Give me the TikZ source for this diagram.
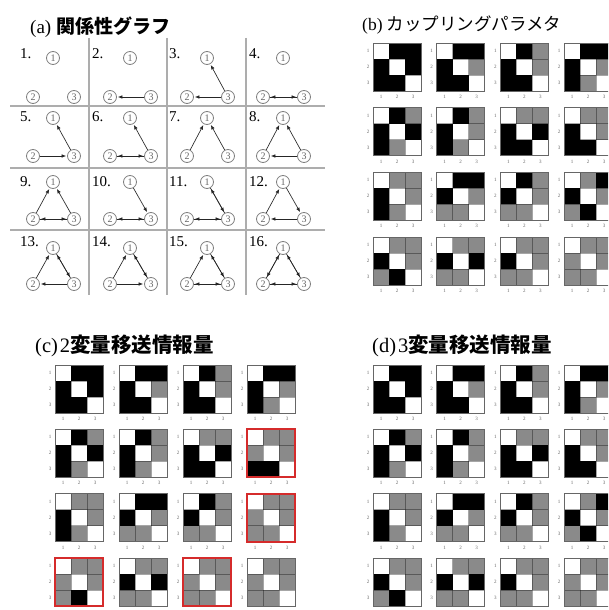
\documentclass[tikz,border=0pt]{standalone}
\usepackage{fontspec}
\setmainfont{Liberation Serif}
\newfontfamily\cjk{Noto Sans CJK JP}
\usetikzlibrary{arrows.meta}
\definecolor{mW}{HTML}{FFFFFF}
\definecolor{mB}{HTML}{000000}
\definecolor{mG}{HTML}{8A8A8A}
\definecolor{gridgray}{HTML}{ADADAD}
\definecolor{redbox}{HTML}{D52B2B}
\newcommand\gcell[4]{%
  \node[gnode] (g#1x1) at (#2,#3) {1};
  \node[gnode] (g#1x2) at (#2-20,#4) {2};
  \node[gnode] (g#1x3) at (#2+21,#4) {3};}
\newcommand\gcon[3]{\draw[garrow] (g#1x#2) -- (g#1x#3);}
\newcommand\cmat[5]{%
  \foreach \cc [count=\i from 0] in #4 {
    \pgfmathtruncatemacro\rr{div(\i,3)}
    \pgfmathtruncatemacro\kk{mod(\i,3)}
    \fill[fill=m\cc] ({#2+16*\kk},{#3+16*\rr}) rectangle ++(16,16);
  }
  \draw[mgrid] ({#2+16},{#3}) -- ++(0,48);
  \draw[mgrid] ({#2+32},{#3}) -- ++(0,48);
  \draw[mgrid] ({#2},{#3+16}) -- ++(48,0);
  \draw[mgrid] ({#2},{#3+32}) -- ++(48,0);
  \draw[mframe] ({#2},{#3}) rectangle ++(48,48);
  \foreach \k in {1,2,3} {
    \node[mtick] (#1l\k) at ({#2-5},{#3+16*\k-8}) {\k};
    \ifnum#5=1
    \node[mtick] (#1b\k) at ({#2+16*\k-8},{#3+54}) {\k};
    \fi
  }}
\def\specsB{{W,B,B,B,W,B,B,B,W},{W,B,B,B,W,G,B,B,W},{W,B,G,B,W,G,B,B,W},{W,B,B,B,W,G,B,G,W},%
{W,B,G,B,W,B,B,G,W},{W,B,G,B,W,G,B,G,W},{W,G,G,B,W,B,B,B,W},{W,G,G,B,W,G,B,B,W},%
{W,G,G,B,W,G,B,G,W},{W,B,B,B,W,G,G,G,W},{W,B,G,B,W,G,G,G,W},{W,G,B,B,W,G,G,B,W},%
{W,G,G,B,W,G,G,B,W},{W,G,G,B,W,B,G,G,W},{W,G,G,B,W,G,G,G,W},{W,G,G,G,W,G,G,G,W}}
\def\specsC{{W,B,B,B,W,B,B,B,W},{W,B,B,B,W,G,B,B,W},{W,B,G,B,W,G,B,B,W},{W,B,B,B,W,G,B,G,W},%
{W,B,G,B,W,B,B,G,W},{W,B,G,B,W,G,B,G,W},{W,G,G,B,W,B,B,B,W},{W,G,G,G,W,G,B,B,W},%
{W,G,G,B,W,G,B,G,W},{W,B,B,B,W,G,G,G,W},{W,B,G,B,W,G,G,G,W},{W,G,G,G,W,G,G,G,W},%
{W,G,G,G,W,G,G,B,W},{W,G,G,B,W,B,G,G,W},{W,G,G,G,W,G,G,G,W},{W,G,G,G,W,G,G,G,W}}
\begin{document}
\begin{tikzpicture}[x=1pt,y=-1pt,
  gnode/.style={circle, draw=black!50, line width=0.8pt, minimum size=13pt, inner sep=0pt,
    font=\fontsize{10}{10}\selectfont, text=black!60},
  garrow/.style={draw=black!85, line width=0.65pt, -{Latex[length=4.5pt,width=3.6pt]}, shorten >=1pt},
  glabel/.style={anchor=west, inner sep=0pt, font=\fontsize{15}{15}\selectfont},
  gline/.style={draw=gridgray, line width=1.3pt},
  mtick/.style={inner sep=0pt, font=\fontsize{5}{5}\selectfont, text=black!60},
  mgrid/.style={draw=black, draw opacity=0.35, line width=0.5pt},
  mframe/.style={draw=black!60, line width=0.7pt},
  rbox/.style={draw=redbox, line width=2.2pt},
  ttl/.style={anchor=west, inner sep=0pt}]
\useasboundingbox (0,0) rectangle (608,610);
\fill[white] (0,0) rectangle (608,610);
\clip (0,0) rectangle (608,610);

% titles
\node[ttl] (ta) at (30,27) {\fontsize{19}{19}\selectfont (a) {\cjk\bfseries 関係性グラフ}};
\node[ttl] (tb) at (362,25) {\fontsize{17.5}{17.5}\selectfont (b) {\cjk カップリングパラメタ}};
\node[ttl] (tc) at (35,346) {\fontsize{20.5}{20.5}\selectfont (c)\hspace{2pt}2{\cjk\bfseries 変量移送情報量}};
\node[ttl] (td) at (372,346) {\fontsize{20.5}{20.5}\selectfont (d)\hspace{2pt}3{\cjk\bfseries 変量移送情報量}};

% (a) grid
\foreach \xx in {89,167,246} \draw[gline] (\xx,38) -- (\xx,295);
\foreach \yy in {106,168,230} \draw[gline] (10,\yy) -- (325,\yy);

% labels
\node[glabel] (l1) at (20,54) {1.};
\node[glabel] (l2) at (92,54) {2.};
\node[glabel] (l3) at (169,54) {3.};
\node[glabel] (l4) at (249,54) {4.};
\node[glabel] (l5) at (20,117) {5.};
\node[glabel] (l6) at (92,117) {6.};
\node[glabel] (l7) at (169,117) {7.};
\node[glabel] (l8) at (249,117) {8.};
\node[glabel] (l9) at (20,182) {9.};
\node[glabel] (l10) at (92,182) {10.};
\node[glabel] (l11) at (169,182) {11.};
\node[glabel] (l12) at (249,182) {12.};
\node[glabel] (l13) at (20,242) {13.};
\node[glabel] (l14) at (92,242) {14.};
\node[glabel] (l15) at (169,242) {15.};
\node[glabel] (l16) at (249,242) {16.};

% graphs
\gcell{1}{53}{58}{97}
\gcell{2}{130}{58}{97}
\gcell{3}{207}{58}{97}
\gcell{4}{283}{58}{97}
\gcell{5}{53}{118}{156}
\gcell{6}{130}{118}{156}
\gcell{7}{207}{118}{156}
\gcell{8}{283}{118}{156}
\gcell{9}{53}{182}{219}
\gcell{10}{130}{182}{219}
\gcell{11}{207}{182}{219}
\gcell{12}{283}{182}{219}
\gcell{13}{53}{248}{284}
\gcell{14}{130}{248}{284}
\gcell{15}{207}{248}{284}
\gcell{16}{283}{248}{284}

\gcon{2}{3}{2}
\gcon{3}{3}{1} \gcon{3}{3}{2}
\gcon{4}{3}{2} \gcon{4}{2}{3}
\gcon{5}{3}{1} \gcon{5}{2}{3}
\gcon{6}{3}{1} \gcon{6}{3}{2} \gcon{6}{2}{3}
\gcon{7}{2}{1} \gcon{7}{3}{1}
\gcon{8}{2}{1} \gcon{8}{3}{1} \gcon{8}{3}{2}
\gcon{9}{2}{1} \gcon{9}{3}{1} \gcon{9}{3}{2} \gcon{9}{2}{3}
\gcon{10}{3}{2} \gcon{10}{1}{3} \gcon{10}{2}{3}
\gcon{11}{3}{1} \gcon{11}{3}{2} \gcon{11}{1}{3} \gcon{11}{2}{3}
\gcon{12}{2}{1} \gcon{12}{3}{2} \gcon{12}{1}{3}
\gcon{13}{2}{1} \gcon{13}{3}{1} \gcon{13}{3}{2} \gcon{13}{1}{3}
\gcon{14}{2}{1} \gcon{14}{3}{1} \gcon{14}{1}{3} \gcon{14}{2}{3}
\gcon{15}{2}{1} \gcon{15}{3}{1} \gcon{15}{3}{2} \gcon{15}{1}{3} \gcon{15}{2}{3}
\gcon{16}{2}{1} \gcon{16}{3}{1} \gcon{16}{1}{2} \gcon{16}{3}{2} \gcon{16}{1}{3} \gcon{16}{2}{3}

% (b) and (d)
\foreach \spec [count=\n from 0] in \specsB {
  \pgfmathsetmacro\mx{373+63.67*mod(\n,4)}
  \pgfmathsetmacro\my{43+64.67*div(\n,4)}
  \pgfmathsetmacro\myd{365+64.33*div(\n,4)}
  \pgfmathtruncatemacro\showb{div(\n,4)<3 ? 1 : 0}
  \cmat{b\n}{\mx}{\my}{\spec}{1}
  \cmat{d\n}{\mx}{\myd}{\spec}{\showb}
}
% (c)
\foreach \spec [count=\n from 0] in \specsC {
  \pgfmathsetmacro\mx{55+64*mod(\n,4)}
  \pgfmathsetmacro\myc{365+64.33*div(\n,4)}
  \pgfmathtruncatemacro\showb{div(\n,4)<3 ? 1 : 0}
  \cmat{c\n}{\mx}{\myc}{\spec}{\showb}
}
\draw[rbox] (247,429.33) rectangle ++(48,48);
\draw[rbox] (247,493.67) rectangle ++(48,48);
\draw[rbox] (55,558) rectangle ++(48,48);
\draw[rbox] (183,558) rectangle ++(48,48);
\end{tikzpicture}
\end{document}
